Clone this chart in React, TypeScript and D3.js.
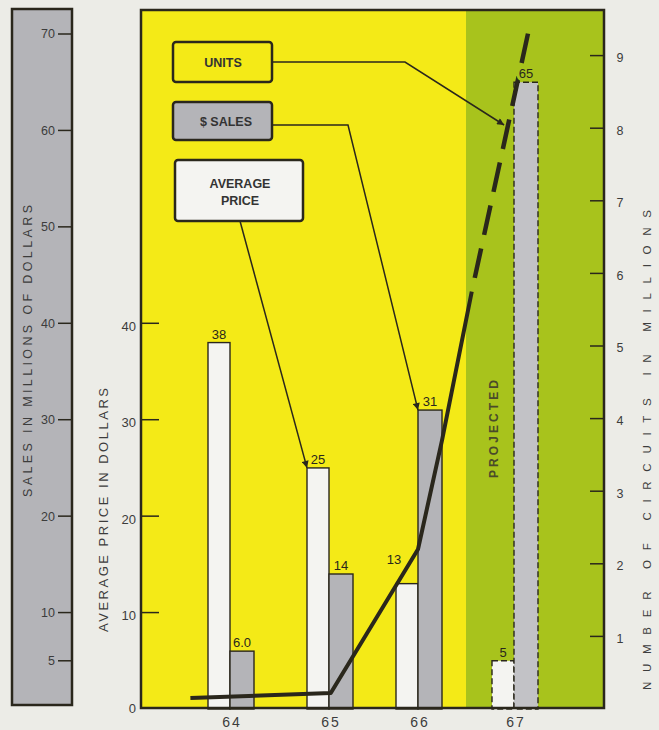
import React from "react";
import * as d3 from "d3";

// ---------- data ----------
const years = [64, 65, 66, 67];
const yearLabels = ["64", "65", "66", "67"];
const avgPrice = [38, 25, 13, 5];
const avgPriceLabels = ["38", "25", "13", "5"];
const salesMillions = [6.0, 14, 31, 65];
const salesLabels = ["6.0", "14", "31", "65"];
const projected = [false, false, false, true];

// units (millions of circuits) – actual part of curve and projected part
const unitsActualYears = [63.6, 65.02, 66, 66.25, 66.56];
const unitsActual = [0.15, 0.22, 2.2, 3.7, 5.75];
const unitsProjYears = [66.56, 67.17];
const unitsProj = [5.75, 9.45];

const priceTicks = [10, 20, 30, 40];
const salesTicks = [5, 10, 20, 30, 40, 50, 60, 70];
const unitTicks = [1, 2, 3, 4, 5, 6, 7, 8, 9];
const projectedStart = 66.5;

// ---------- style ----------
const W = 659;
const H = 730;
const BG = "#ecece7";
const YELLOW = "#f4ea17";
const GREEN = "#a8c31c";
const GRAY = "#b4b4b8";
const GRAY_LIGHT = "#c2c2c6";
const WHITE = "#f4f4f1";
const INK = "#2a271c";
const TXT = "#3c3c3c";
const FONT = "'Liberation Sans', Arial, sans-serif";

const plot = { left: 141, right: 604, top: 10, bottom: 708 };

export default function App() {
  const x = d3.scaleLinear().domain(years).range([230, 329, 418, 514]);
  const yVal = d3.scaleLinear().domain([0, 70]).range([709, 34]);
  const yUnits = d3.scaleLinear().domain([0, 9]).range([709, 55.6]);

  const whiteW = 22;
  const grayW = 24;

  const line = d3
    .line<[number, number]>()
    .x((d) => x(d[0]))
    .y((d) => yUnits(d[1]));
  const actualPath = line(unitsActualYears.map((yr, i) => [yr, unitsActual[i]]))!;
  const projPath = line(unitsProjYears.map((yr, i) => [yr, unitsProj[i]]))!;

  // arrow targets derived from data
  const salesTip = [x(66), yVal(31)];
  const priceTip = [x(65) - whiteW, yVal(25)];
  const t = 0.62;
  const unitsTip = [
    x(unitsProjYears[0] + t * (unitsProjYears[1] - unitsProjYears[0])) - 4,
    yUnits(unitsProj[0] + t * (unitsProj[1] - unitsProj[0])),
  ];

  const greenX = x(projectedStart);

  return (
    <svg
      width={W}
      height={H}
      style={{ position: "absolute", left: 0, top: 0, fontFamily: FONT }}
    >
      <defs>
        <marker
          id="arr"
          viewBox="0 0 10 10"
          refX="10"
          refY="5"
          markerWidth="9"
          markerHeight="7"
          markerUnits="userSpaceOnUse"
          orient="auto"
        >
          <path d="M0,0 L10,5 L0,10 z" fill={INK} />
        </marker>
      </defs>
      <rect x={0} y={0} width={W} height={H} fill={BG} />

      {/* ---- Sales panel (left) ---- */}
      <rect x={12} y={9} width={60} height={696} fill={GRAY} stroke={INK} strokeWidth={2.5} />
      {salesTicks.map((v) => (
        <g key={"s" + v}>
          <line x1={58} x2={72} y1={yVal(v)} y2={yVal(v)} stroke={INK} strokeWidth={1.5} />
          <text x={55} y={yVal(v)} dy="0.35em" textAnchor="end" fontSize={12.5} fill={TXT}>
            {v}
          </text>
        </g>
      ))}
      <text
        transform={`translate(32,351) rotate(-90)`}
        textAnchor="middle"
        fontSize={12.5}
        fill={TXT}
        textLength={292}
        lengthAdjust="spacing"
      >
        SALES IN MILLIONS OF DOLLARS
      </text>

      {/* ---- plot backgrounds ---- */}
      <rect x={plot.left} y={plot.top} width={greenX - plot.left} height={plot.bottom - plot.top} fill={YELLOW} />
      <rect x={greenX} y={plot.top} width={plot.right - greenX} height={plot.bottom - plot.top} fill={GREEN} />

      {/* price axis */}
      {priceTicks.map((v) => (
        <g key={"p" + v}>
          <line x1={plot.left} x2={plot.left + 18} y1={yVal(v)} y2={yVal(v)} stroke={INK} strokeWidth={1.5} />
          <text x={136} y={yVal(v) + 3} dy="0.35em" textAnchor="end" fontSize={13} fill={TXT}>
            {v}
          </text>
        </g>
      ))}
      <text x={136} y={yVal(0) - 1} dy="0.35em" textAnchor="end" fontSize={13} fill={TXT}>
        0
      </text>
      <text
        transform={`translate(108,510) rotate(-90)`}
        textAnchor="middle"
        fontSize={13}
        fill={TXT}
        textLength={244}
        lengthAdjust="spacing"
      >
        AVERAGE PRICE IN DOLLARS
      </text>

      {/* units axis (right) */}
      {unitTicks.map((v) => (
        <g key={"u" + v}>
          <line x1={plot.right - 14} x2={plot.right} y1={yUnits(v)} y2={yUnits(v)} stroke={INK} strokeWidth={1.5} />
          <text x={620} y={yUnits(v) + 2} dy="0.35em" textAnchor="middle" fontSize={12.5} fill={TXT}>
            {v}
          </text>
        </g>
      ))}
      <text
        transform={`translate(651,450) rotate(-90)`}
        textAnchor="middle"
        fontSize={11.5}
        fill={TXT}
        textLength={480}
        lengthAdjust="spacing"
      >
        NUMBER OF CIRCUITS IN MILLIONS
      </text>

      {/* PROJECTED */}
      <text
        transform={`translate(498,429) rotate(-90)`}
        textAnchor="middle"
        fontSize={12}
        fontWeight="bold"
        fill="#4a4a2a"
        textLength={98}
        lengthAdjust="spacing"
      >
        PROJECTED
      </text>

      {/* bars */}
      {years.map((yr, i) => {
        const cx = x(yr);
        const dash = projected[i] ? "6 3" : undefined;
        return (
          <g key={"b" + yr}>
            <rect
              x={cx - whiteW}
              y={yVal(avgPrice[i])}
              width={whiteW}
              height={yVal(0) - yVal(avgPrice[i])}
              fill={WHITE}
              stroke={INK}
              strokeWidth={1.4}
              strokeDasharray={dash}
            />
            <rect
              x={cx}
              y={yVal(salesMillions[i])}
              width={grayW}
              height={yVal(0) - yVal(salesMillions[i])}
              fill={projected[i] ? GRAY_LIGHT : GRAY}
              stroke={INK}
              strokeWidth={1.4}
              strokeDasharray={dash}
            />
          </g>
        );
      })}

      {/* units line */}
      <path d={actualPath} fill="none" stroke={INK} strokeWidth={4} strokeLinejoin="round" />
      <path
        d={projPath}
        fill="none"
        stroke={INK}
        strokeWidth={4.5}
        strokeDasharray="30 14"
        strokeDashoffset={30}
      />

      {/* bar labels */}
      {years.map((yr, i) => {
        const cx = x(yr);
        const shift = i === 2 ? [-13, -16] : [0, 0];
        return (
          <g key={"l" + yr} fontSize={13} fill={INK}>
            <text
              x={cx - whiteW / 2 + shift[0]}
              y={yVal(avgPrice[i]) - 4 + shift[1]}
              textAnchor="middle"
            >
              {avgPriceLabels[i]}
            </text>
            <text
              x={cx + grayW / 2}
              y={yVal(salesMillions[i]) - 4}
              textAnchor="middle"
              stroke={projected[i] ? GREEN : "none"}
              strokeWidth={6}
              paintOrder="stroke"
            >
              {salesLabels[i]}
            </text>
          </g>
        );
      })}

      {/* frame */}
      <rect
        x={plot.left}
        y={plot.top}
        width={plot.right - plot.left}
        height={plot.bottom - plot.top}
        fill="none"
        stroke={INK}
        strokeWidth={2.5}
      />

      {/* x labels */}
      {years.map((yr, i) => (
        <text
          key={"x" + yr}
          x={x(yr) + 2}
          y={727}
          textAnchor="middle"
          fontSize={14}
          letterSpacing={2}
          fill={TXT}
        >
          {yearLabels[i]}
        </text>
      ))}

      {/* legend callouts */}
      <g stroke={INK} strokeWidth={1.5} fill="none">
        <polyline points={`272,62 405,62 ${unitsTip[0]},${unitsTip[1]}`} markerEnd="url(#arr)" />
        <polyline points={`272,125 348,125 ${salesTip[0]},${salesTip[1]}`} markerEnd="url(#arr)" />
        <polyline points={`240,221 ${priceTip[0]},${priceTip[1]}`} markerEnd="url(#arr)" />
      </g>
      <rect x={173} y={42} width={99} height={40} rx={3} fill={YELLOW} stroke={INK} strokeWidth={2.5} />
      <rect x={173} y={102} width={99} height={38} rx={3} fill={GRAY} stroke={INK} strokeWidth={2.5} />
      <rect x={175} y={160} width={128} height={61} rx={3} fill={WHITE} stroke={INK} strokeWidth={2.5} />
      <g fontSize={12.5} fontWeight="bold" fill="#333" textAnchor="middle">
        <text x={223} y={67}>UNITS</text>
        <text x={226} y={126}>$ SALES</text>
        <text x={240} y={188}>AVERAGE</text>
        <text x={240} y={205}>PRICE</text>
      </g>
    </svg>
  );
}
